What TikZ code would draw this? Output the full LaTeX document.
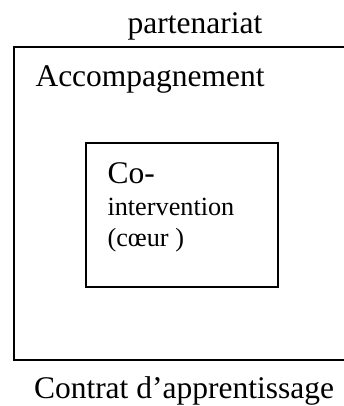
\documentclass[tikz,border=0pt]{standalone}
\usepackage{fontspec}
\setmainfont{Liberation Serif}
\begin{document}
\begin{tikzpicture}[x=0.381pt,y=-0.381pt,
  boxline/.style={line width=0.8pt},
  label12/.style={inner sep=0pt,font=\fontsize{12}{14}\selectfont},
  label10/.style={inner sep=0pt,font=\fontsize{10}{12}\selectfont}]
	\useasboundingbox (0,0) rectangle (344,406);
	\clip (0,0) rectangle (344,406);
	
	\node[label12,anchor=base] (partenariat) at (195,33) {partenariat};
	\draw[boxline] (14,47) rectangle (360,360);
	\node[label12,anchor=base west] (accomp) at (35,86) {Accompagnement};
	
	\draw[boxline] (86,143) rectangle (278,287);
	\node[label12,anchor=base west] (co) at (107,183) {Co-};
	\node[label10,anchor=base west] (interv) at (107,215) {intervention};
	\node[label10,anchor=base west] (coeur) at (107,246) {(cœur )};
	
	\node[label12,anchor=base] (contrat) at (184,398) {Contrat d’apprentissage};
\end{tikzpicture}
\end{document}
